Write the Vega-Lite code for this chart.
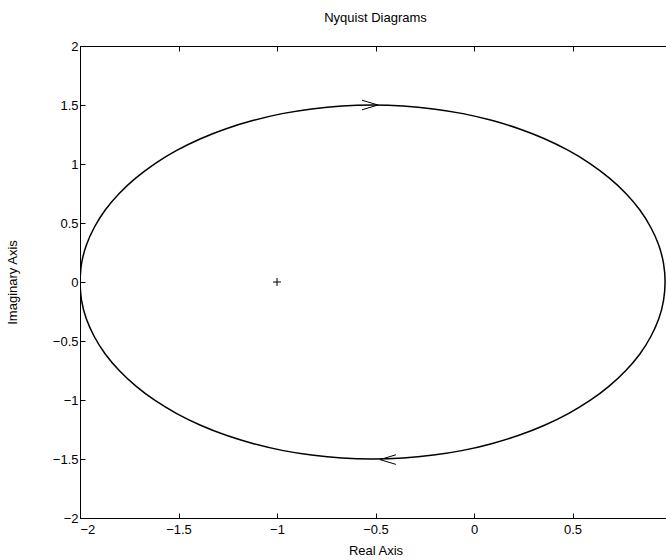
{
  "$schema": "https://vega.github.io/schema/vega-lite/v6.json",
  "autosize": {"type": "none"},
  "padding": {"left": 80, "top": 46, "right": 0, "bottom": 42},
  "width": 591,
  "height": 472,
  "background": "white",
  "config": {
    "font": "Liberation Sans",
    "view": {"stroke": "black", "strokeWidth": 1},
    "axis": {
      "grid": false,
      "domainColor": "black",
      "domainWidth": 1,
      "tickColor": "black",
      "tickSize": -5,
      "labelFont": "Liberation Sans",
      "labelFontSize": 13,
      "labelColor": "black",
      "titleFont": "Liberation Sans",
      "titleFontSize": 13,
      "titleFontWeight": "normal",
      "titleColor": "black"
    }
  },
  "title": {
    "text": "Nyquist Diagrams",
    "fontSize": 13,
    "fontWeight": "normal",
    "font": "Liberation Sans",
    "color": "black",
    "offset": 15
  },
  "datasets": {
    "curve": [
      {"i": 0, "re": -2.000, "im": 0.000},
      {"i": 1, "re": -1.992, "im": 0.157},
      {"i": 2, "re": -1.968, "im": 0.312},
      {"i": 3, "re": -1.927, "im": 0.464},
      {"i": 4, "re": -1.872, "im": 0.610},
      {"i": 5, "re": -1.801, "im": 0.750},
      {"i": 6, "re": -1.716, "im": 0.882},
      {"i": 7, "re": -1.619, "im": 1.004},
      {"i": 8, "re": -1.509, "im": 1.115},
      {"i": 9, "re": -1.388, "im": 1.214},
      {"i": 10, "re": -1.258, "im": 1.299},
      {"i": 11, "re": -1.119, "im": 1.370},
      {"i": 12, "re": -0.974, "im": 1.427},
      {"i": 13, "re": -0.824, "im": 1.467},
      {"i": 14, "re": -0.670, "im": 1.492},
      {"i": 15, "re": -0.515, "im": 1.500},
      {"i": 16, "re": -0.360, "im": 1.492},
      {"i": 17, "re": -0.206, "im": 1.467},
      {"i": 18, "re": -0.056, "im": 1.427},
      {"i": 19, "re": 0.089, "im": 1.370},
      {"i": 20, "re": 0.228, "im": 1.299},
      {"i": 21, "re": 0.358, "im": 1.214},
      {"i": 22, "re": 0.479, "im": 1.115},
      {"i": 23, "re": 0.589, "im": 1.004},
      {"i": 24, "re": 0.686, "im": 0.882},
      {"i": 25, "re": 0.771, "im": 0.750},
      {"i": 26, "re": 0.842, "im": 0.610},
      {"i": 27, "re": 0.897, "im": 0.464},
      {"i": 28, "re": 0.938, "im": 0.312},
      {"i": 29, "re": 0.962, "im": 0.157},
      {"i": 30, "re": 0.970, "im": 0.000},
      {"i": 31, "re": 0.962, "im": -0.157},
      {"i": 32, "re": 0.938, "im": -0.312},
      {"i": 33, "re": 0.897, "im": -0.464},
      {"i": 34, "re": 0.842, "im": -0.610},
      {"i": 35, "re": 0.771, "im": -0.750},
      {"i": 36, "re": 0.686, "im": -0.882},
      {"i": 37, "re": 0.589, "im": -1.004},
      {"i": 38, "re": 0.479, "im": -1.115},
      {"i": 39, "re": 0.358, "im": -1.214},
      {"i": 40, "re": 0.228, "im": -1.299},
      {"i": 41, "re": 0.089, "im": -1.370},
      {"i": 42, "re": -0.056, "im": -1.427},
      {"i": 43, "re": -0.206, "im": -1.467},
      {"i": 44, "re": -0.360, "im": -1.492},
      {"i": 45, "re": -0.515, "im": -1.500},
      {"i": 46, "re": -0.670, "im": -1.492},
      {"i": 47, "re": -0.824, "im": -1.467},
      {"i": 48, "re": -0.974, "im": -1.427},
      {"i": 49, "re": -1.119, "im": -1.370},
      {"i": 50, "re": -1.258, "im": -1.299},
      {"i": 51, "re": -1.388, "im": -1.214},
      {"i": 52, "re": -1.509, "im": -1.115},
      {"i": 53, "re": -1.619, "im": -1.004},
      {"i": 54, "re": -1.716, "im": -0.882},
      {"i": 55, "re": -1.801, "im": -0.750},
      {"i": 56, "re": -1.872, "im": -0.610},
      {"i": 57, "re": -1.927, "im": -0.464},
      {"i": 58, "re": -1.968, "im": -0.312},
      {"i": 59, "re": -1.992, "im": -0.157},
      {"i": 60, "re": -2.000, "im": 0.000}
    ],
    "arrowRight": [{"re": -0.528, "im": 1.500}],
    "arrowLeft": [{"re": -0.437, "im": -1.505}],
    "critical": [{"re": -1, "im": 0}]
  },
  "layer": [
    {
      "encoding": {
        "x": {
          "field": "re", "type": "quantitative",
          "scale": {"domain": [-2, 1], "nice": false, "zero": false},
          "axis": {"orient": "bottom", "title": "Real Axis", "titleFontWeight": "normal", "values": [-2, -1.5, -1, -0.5, 0, 0.5], "format": "~g", "labelPadding": 10, "titlePadding": 8}
        },
        "y": {
          "field": "im", "type": "quantitative",
          "scale": {"domain": [-2, 2], "nice": false, "zero": false},
          "axis": {"orient": "left", "title": "Imaginary Axis", "titleFontWeight": "normal", "values": [-2, -1.5, -1, -0.5, 0, 0.5, 1, 1.5, 2], "format": "~g", "labelPadding": 7, "titlePadding": 33}
        }
      },
      "layer": [
        {
          "data": {"name": "curve"},
          "mark": {"type": "line", "color": "black", "strokeWidth": 1.5, "clip": true, "interpolate": "cardinal"},
          "encoding": {"order": {"field": "i", "type": "quantitative"}}
        },
        {
          "data": {"name": "arrowRight"},
          "mark": {"type": "point", "shape": "M -1 -0.6 L 1 0 L -1 0.6", "filled": false, "color": "black", "strokeWidth": 1, "size": 256, "opacity": 1}
        },
        {
          "data": {"name": "arrowLeft"},
          "mark": {"type": "point", "shape": "M 1 -0.6 L -1 0 L 1 0.6", "filled": false, "color": "black", "strokeWidth": 1, "size": 256, "opacity": 1}
        },
        {
          "data": {"name": "critical"},
          "mark": {"type": "point", "shape": "M -1 0 L 1 0 M 0 -1 L 0 1", "filled": false, "color": "black", "strokeWidth": 1, "size": 64, "opacity": 1}
        }
      ]
    },
    {
      "data": {"name": "critical"},
      "mark": {"type": "point", "opacity": 0},
      "encoding": {
        "x": {"field": "re", "type": "quantitative", "scale": {"domain": [-2, 1], "nice": false, "zero": false}, "axis": {"orient": "top", "title": null, "labels": false, "values": [-2, -1.5, -1, -0.5, 0, 0.5, 1], "domain": false}},
        "y": {"field": "im", "type": "quantitative", "scale": {"domain": [-2, 2], "nice": false, "zero": false}, "axis": {"orient": "right", "title": null, "labels": false, "values": [-2, -1.5, -1, -0.5, 0, 0.5, 1, 1.5, 2], "domain": false}}
      }
    }
  ],
  "resolve": {"axis": {"x": "independent", "y": "independent"}}
}
